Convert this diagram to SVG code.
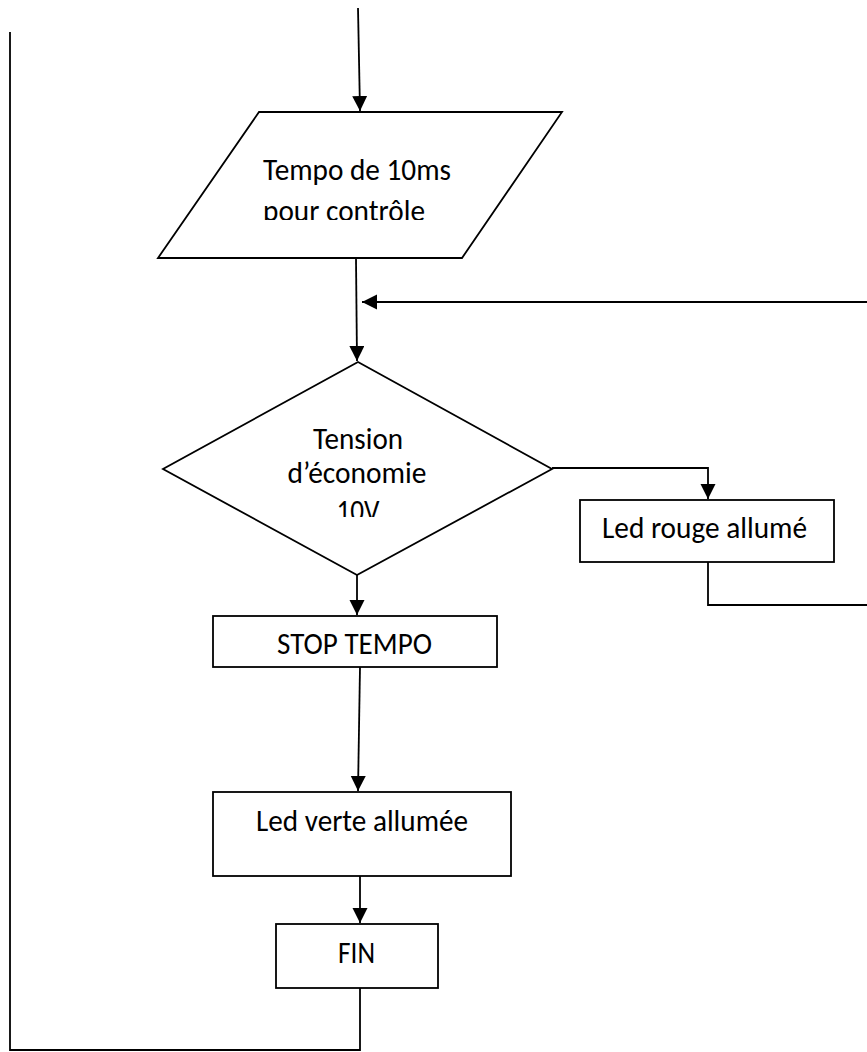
<svg xmlns="http://www.w3.org/2000/svg" width="867" height="1052" viewBox="0 0 867 1052">
  <style>
    .shape { fill: #ffffff; stroke: #000000; stroke-width: 1.8; }
    .conn { fill: none; stroke: #000000; stroke-width: 1.8; }
    .lbl { font-family: Carlito, Lato, "Liberation Sans", sans-serif; font-size: 30px; fill: #000000; }
  </style>
  <defs>
    <marker id="arrow" markerUnits="userSpaceOnUse" markerWidth="16" markerHeight="16" refX="15" refY="7.5" orient="auto">
      <path d="M0,0 L15,7.5 L0,15 z" fill="#000000"/>
    </marker>
    <clipPath id="clipTempo"><rect x="150" y="112" width="420" height="108"/></clipPath>
    <clipPath id="clipTension"><rect x="150" y="362" width="420" height="155"/></clipPath>
  </defs>
  <rect width="867" height="1052" fill="#ffffff"/>

  <g id="connectors">
    <path class="conn" d="M358,8 L360,111" marker-end="url(#arrow)"/>
    <path class="conn" d="M356,259 L357,361" marker-end="url(#arrow)"/>
    <path class="conn" d="M868,302 L362,302" marker-end="url(#arrow)"/>
    <path class="conn" d="M552,468 L708,468 L708,499" marker-end="url(#arrow)"/>
    <path class="conn" d="M708,562 L708,605 L868,605"/>
    <path class="conn" d="M357,575 L357,615" marker-end="url(#arrow)"/>
    <path class="conn" d="M360,667 L358,791" marker-end="url(#arrow)"/>
    <path class="conn" d="M360,876 L360,923" marker-end="url(#arrow)"/>
    <path class="conn" d="M360,988 L360,1050 L10,1050 L10,32"/>
  </g>

  <g id="node-tempo">
    <polygon class="shape" points="259,112 562,112 462,258 158,258"/>
    <g clip-path="url(#clipTempo)">
      <text class="lbl" x="263" y="180" textLength="188" lengthAdjust="spacingAndGlyphs">Tempo de 10ms</text>
      <text class="lbl" x="263" y="221" textLength="162" lengthAdjust="spacingAndGlyphs">pour contrôle</text>
    </g>
  </g>

  <g id="node-tension">
    <polygon class="shape" points="358,362 552,469 357,575 163,469"/>
    <g clip-path="url(#clipTension)">
      <text class="lbl" x="358" y="449" text-anchor="middle" textLength="90" lengthAdjust="spacingAndGlyphs">Tension</text>
      <text class="lbl" x="357" y="483" text-anchor="middle" textLength="139" lengthAdjust="spacingAndGlyphs">d’économie</text>
      <text class="lbl" x="358" y="521" text-anchor="middle" textLength="43" lengthAdjust="spacingAndGlyphs">10V</text>
    </g>
  </g>

  <g id="node-led-rouge">
    <rect class="shape" x="580" y="500" width="254" height="62"/>
    <text class="lbl" x="602" y="538" textLength="205" lengthAdjust="spacingAndGlyphs">Led rouge allumé</text>
  </g>

  <g id="node-stop">
    <rect class="shape" x="213" y="616" width="284" height="51"/>
    <text class="lbl" x="277" y="654" textLength="155" lengthAdjust="spacingAndGlyphs">STOP TEMPO</text>
  </g>

  <g id="node-led-verte">
    <rect class="shape" x="213" y="792" width="298" height="84"/>
    <text class="lbl" x="256" y="831" textLength="212" lengthAdjust="spacingAndGlyphs">Led verte allumée</text>
  </g>

  <g id="node-fin">
    <rect class="shape" x="276" y="924" width="162" height="64"/>
    <text class="lbl" x="338" y="963" textLength="37" lengthAdjust="spacingAndGlyphs">FIN</text>
  </g>
</svg>
